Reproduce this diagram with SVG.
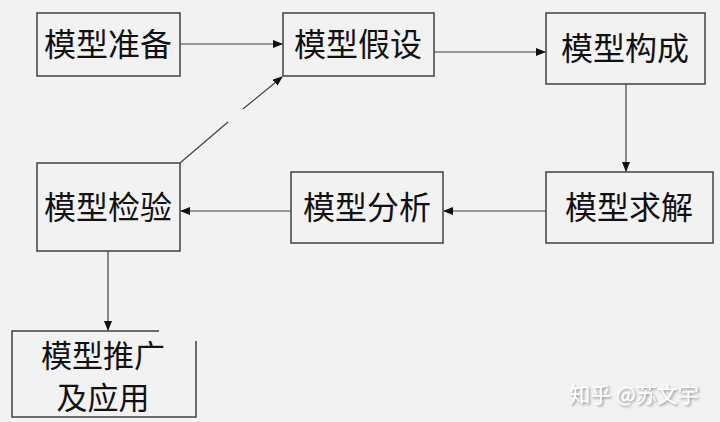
<svg xmlns="http://www.w3.org/2000/svg" width="720" height="422" viewBox="0 0 720 422">
<style>
.box{fill:#f2f2f2;stroke:#404040;stroke-width:1.5}
.edge{fill:none;stroke:#404040;stroke-width:1.2}
.lbl{font-family:"Noto Sans CJK SC","Noto Sans CJK TC",sans-serif;font-size:32px;fill:#111;text-anchor:middle}
.lbl2{font-size:31px}
.wm{font-family:"Noto Sans CJK SC",sans-serif;font-size:21px;fill:#fff;text-anchor:middle}
</style>
<defs>
<marker id="ah" markerWidth="10" markerHeight="8" refX="9" refY="4" orient="auto" markerUnits="userSpaceOnUse">
<path d="M0,0 L10,4 L0,8 Z" fill="#111"/>
</marker>
<filter id="sh" x="-10%" y="-20%" width="130%" height="150%">
<feDropShadow dx="1.5" dy="1.5" stdDeviation="0.8" flood-color="#888" flood-opacity="0.9"/>
</filter>
</defs>
<rect width="720" height="422" fill="#f2f2f2"/>
<g id="connectors">
<line class="edge" x1="180" y1="44" x2="282" y2="44" marker-end="url(#ah)"/>
<line class="edge" x1="434" y1="52" x2="545" y2="52" marker-end="url(#ah)"/>
<line class="edge" x1="626" y1="84" x2="626" y2="171" marker-end="url(#ah)"/>
<line class="edge" x1="546" y1="211" x2="444" y2="211" marker-end="url(#ah)"/>
<line class="edge" x1="291" y1="211" x2="181" y2="211" marker-end="url(#ah)"/>
<line class="edge" x1="108" y1="251" x2="108" y2="330" marker-end="url(#ah)"/>
<line class="edge" x1="180" y1="163" x2="228" y2="122"/>
<line class="edge" x1="243" y1="109" x2="282" y2="77" marker-end="url(#ah)"/>
</g>
<g id="n1"><rect class="box" x="37" y="13" width="143" height="63"/><text class="lbl" x="108" y="56">模型准备</text></g>
<g id="n2"><rect class="box" x="283" y="13" width="151" height="63"/><text class="lbl" x="358" y="56">模型假设</text></g>
<g id="n3"><rect class="box" x="546" y="13" width="159" height="71"/><text class="lbl" x="625" y="60">模型构成</text></g>
<g id="n4"><rect class="box" x="546" y="172" width="167" height="71"/><text class="lbl" x="629" y="219">模型求解</text></g>
<g id="n5"><rect class="box" x="291" y="172" width="152" height="71"/><text class="lbl" x="367" y="219">模型分析</text></g>
<g id="n6"><rect class="box" x="37" y="163" width="143" height="88"/><text class="lbl" x="108" y="219">模型检验</text></g>
<g id="n7">
<path class="edge" d="M159,331 L12,331 L12,417 L196,417 L196,341" style="stroke-width:1.5"/>
<text class="lbl lbl2" x="103" y="367">模型推广</text>
<text class="lbl lbl2" x="103" y="409">及应用</text>
</g>
<text class="wm" x="634" y="402" filter="url(#sh)">知乎 @苏文宇</text>
</svg>
